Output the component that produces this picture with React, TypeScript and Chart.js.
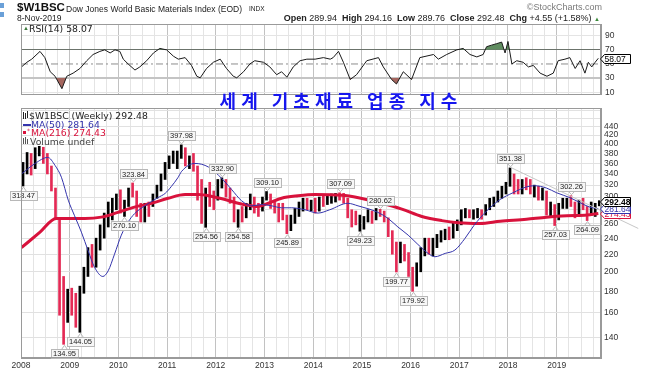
import React, { useEffect, useRef } from 'react';
import { Chart, registerables } from 'chart.js';

Chart.register(...registerables);

// ---------------- data ----------------
const FIRST_YEAR = 2008; // monthly bars start Jan 2008
const X_MIN = 2008;
const X_MAX = 2019.91;

// monthly price ranges (Jan 2008 .. Nov 2019)
const barLow = [
  318.47, 340, 338, 350, 375, 360, 340, 310, 268, 158, 134.95, 152,
  158, 148, 144.05, 178, 195, 205, 205, 225, 240, 255, 265, 280,
  275, 270.10, 285, 300, 270, 262, 262, 270, 285, 298, 310, 330,
  350, 360, 350, 370, 355, 350, 345, 295, 260, 254.56, 285, 280,
  295, 315, 300, 290, 262, 254.58, 262, 268, 280, 275, 270, 278,
  295, 282, 275, 262, 265, 245.89, 250, 260, 270, 278, 280, 278,
  275, 278, 285, 288, 290, 292, 295, 290, 268, 255, 258, 249.23,
  252, 262, 260, 265, 270, 262, 242, 220, 199.77, 210, 212, 195,
  179.92, 185, 200, 218, 220, 218, 228, 235, 238, 238, 240, 250,
  258, 268, 268, 266, 268, 266, 272, 280, 285, 292, 298, 305,
  318, 305, 305, 305, 312, 305, 300, 295, 295, 272, 270, 257.03,
  265, 282, 282, 285, 268, 270, 280, 264.09, 272, 270, 286,
];
const barHigh = [
  362, 382, 380, 392, 395, 393, 380, 355, 315, 265, 195, 182,
  183, 178, 185, 205, 228, 232, 240, 258, 275, 292, 298, 305,
  312, 295, 315, 323.84, 310, 290, 290, 292, 305, 320, 340, 362,
  375, 385, 385, 397.98, 392, 375, 380, 355, 330, 315, 325, 310,
  330, 332.90, 330, 315, 300, 280, 285, 290, 305, 300, 290, 300,
  309.10, 305, 295, 290, 290, 272, 272, 282, 292, 298, 298, 295,
  298, 300, 302, 304, 305, 306, 307.09, 306, 298, 280, 278, 272,
  270, 280, 278, 282, 280.62, 278, 268, 250, 235, 235, 232, 222,
  205, 210, 228, 240, 240, 240, 245, 250, 252, 255, 262, 265,
  280, 282, 280, 280, 282, 280, 288, 298, 300, 310, 318, 325,
  351.38, 340, 330, 330, 333, 330, 320, 318, 315, 310, 292, 288,
  290, 298, 298, 302.26, 292, 295, 298, 285, 292, 290, 294.16,
];
const barClose = [
  350, 375, 355, 385, 388, 365, 350, 320, 275, 180, 160, 170,
  162, 150, 178, 200, 220, 212, 235, 250, 268, 270, 292, 300,
  280, 290, 310, 305, 280, 268, 285, 282, 302, 315, 330, 358,
  370, 378, 382, 385, 362, 365, 355, 315, 265, 305, 300, 295,
  325, 325, 310, 300, 268, 275, 270, 285, 300, 285, 282, 298,
  305, 290, 285, 275, 270, 252, 268, 278, 288, 292, 285, 292,
  282, 296, 295, 300, 300, 304, 300, 295, 272, 270, 262, 262,
  265, 275, 268, 280, 272, 265, 245, 228, 210, 225, 218, 200,
  190, 205, 225, 238, 228, 230, 240, 245, 248, 245, 255, 262,
  275, 276, 272, 275, 278, 272, 285, 292, 298, 308, 312, 322,
  340, 318, 315, 325, 318, 310, 312, 300, 308, 280, 285, 265,
  285, 292, 294, 290, 272, 292, 285, 275, 285, 288, 292.48,
];

// 50-week moving average
const ma50Dates = [2008.01, 2008.29, 2008.55, 2008.70, 2008.83, 2008.97, 2009.10, 2009.24, 2009.38, 2009.51, 2009.68, 2009.79, 2009.92, 2010.06, 2010.20, 2010.33, 2010.54, 2010.81, 2010.96, 2011.09, 2011.22, 2011.30, 2011.57, 2011.85, 2012.12, 2012.33, 2012.53, 2012.74, 2012.94, 2013.15, 2013.35, 2013.56, 2013.83, 2014.10, 2014.34, 2014.71, 2014.92, 2015.33, 2015.54, 2015.74, 2015.95, 2016.15, 2016.36, 2016.50, 2016.71, 2016.91, 2017.12, 2017.30, 2017.56, 2017.84, 2018.10, 2018.38, 2018.55, 2018.79, 2019.00, 2019.27, 2019.48, 2019.68, 2019.855];
const ma50Values = [340, 360, 372, 356, 334, 295, 271, 248, 224, 205, 195, 201, 220, 244, 262, 274, 286, 299, 306, 318, 333, 345, 360, 353, 332, 312, 294, 286, 288, 286, 283, 283, 280, 275, 280, 290, 286, 276, 267, 255, 244, 232, 221, 217, 221, 225, 240, 257, 278, 296, 307, 317, 319, 315, 307, 299, 291, 284, 281.64];

// 216-week moving average
const ma216Dates = [2008.01, 2008.39, 2008.72, 2009.31, 2009.65, 2009.99, 2010.33, 2010.68, 2011.02, 2011.37, 2011.64, 2011.92, 2012.19, 2012.46, 2012.74, 2012.87, 2013.08, 2013.35, 2013.69, 2014.04, 2014.59, 2014.93, 2015.41, 2015.82, 2016.23, 2016.64, 2016.98, 2017.42, 2017.84, 2018.38, 2018.79, 2019.21, 2019.62, 2019.855];
const ma216Values = [228, 248, 267, 267, 269, 276, 284, 290, 298, 304, 304, 301, 296, 290, 286, 285, 290, 298, 302, 304, 303, 299, 290, 281, 270, 264, 261, 260, 263, 266, 269, 271, 272, 274.43];

// trend line drawn from the 2018 high
const trendDates = [2018.04, 2020.675];
const trendValues = [353, 253];

// labelled highs / lows (bar index, side)
const annotIndex = [0, 27, 39, 49, 60, 78, 88, 120, 135, 25, 45, 53, 65, 83, 92, 96, 131, 139, 14, 10];
const annotSide = ['low', 'high', 'high', 'high', 'high', 'high', 'high', 'high', 'high', 'low', 'low', 'low', 'low', 'low', 'low', 'low', 'low', 'low', 'low', 'low'];

// RSI(14)
const rsiDates = [2008.01, 2008.12, 2008.22, 2008.39, 2008.49, 2008.60, 2008.70, 2008.84, 2008.94, 2009.07, 2009.21, 2009.35, 2009.48, 2009.62, 2009.72, 2009.83, 2009.93, 2010.03, 2010.10, 2010.20, 2010.34, 2010.44, 2010.58, 2010.72, 2010.85, 2010.99, 2011.13, 2011.23, 2011.37, 2011.50, 2011.61, 2011.68, 2011.81, 2011.95, 2012.09, 2012.22, 2012.36, 2012.43, 2012.57, 2012.70, 2012.80, 2012.98, 2013.11, 2013.25, 2013.35, 2013.46, 2013.59, 2013.73, 2013.87, 2014.04, 2014.21, 2014.35, 2014.41, 2014.52, 2014.62, 2014.76, 2014.89, 2015.10, 2015.34, 2015.44, 2015.61, 2015.71, 2015.85, 2016.02, 2016.19, 2016.47, 2016.57, 2016.74, 2016.95, 2017.08, 2017.22, 2017.36, 2017.49, 2017.56, 2017.66, 2017.77, 2017.87, 2017.94, 2018.00, 2018.08, 2018.18, 2018.31, 2018.42, 2018.52, 2018.66, 2018.80, 2018.93, 2019.03, 2019.17, 2019.27, 2019.38, 2019.48, 2019.58, 2019.65, 2019.72, 2019.79, 2019.855];
const rsiValues = [45.8, 52.4, 56.8, 67.8, 59, 39, 32.6, 15, 32.6, 37, 43.6, 54.6, 63.4, 67.8, 70, 65.6, 70, 67.8, 56.8, 50, 41.4, 45.8, 54.6, 65.6, 72, 70, 61, 56.8, 59, 48, 32.6, 30.4, 43.6, 52.4, 56.8, 43.6, 32.6, 30.4, 39, 50, 54.6, 52.4, 45.8, 34.8, 39, 31.3, 45.8, 54.6, 56.8, 56.8, 59, 56.8, 59, 67.8, 52.4, 28, 34.8, 54.6, 59, 45.8, 28, 21.6, 39, 28, 59, 63.4, 56.8, 63.4, 70, 72, 63.4, 60, 63.4, 74.4, 76.6, 78.8, 81, 65.6, 81.9, 50, 54.6, 52.4, 45.8, 48, 37, 32.6, 37, 54.6, 56.8, 59, 43.6, 54.6, 37, 52.4, 45.8, 52.4, 58.07];
const RSI_UPPER = 70;
const RSI_MID = 50;
const RSI_LOWER = 30;
const rsiTicks = [10, 30, 50, 70, 90];

const priceTicks = [140, 160, 180, 200, 220, 240, 260, 280, 300, 320, 340, 360, 380, 400, 420, 440, 460, 480];
const priceTickLabels = [140, 160, 180, 200, 220, 240, 260, 280, 300, 320, 340, 360, 380, 400, 420, 440];

// ---------------- helpers ----------------
const UP = '#000000';
const DOWN = '#e42a55';
const MA50_COLOR = '#3434ac';
const MA216_COLOR = '#d8123c';
const FONT = '"Liberation Sans", Arial, sans-serif';

const barX = barLow.map((_, i) => FIRST_YEAR + (i + 0.5) / 12);
const barColors = barClose.map((c, i) => (i === 0 || c >= barClose[i - 1] ? UP : DOWN));

const quarterTicks: number[] = [];
for (let q = 0; q <= 47; q++) quarterTicks.push(FIRST_YEAR + q * 0.25);

const xScale = (labels: boolean) => ({
  type: 'linear',
  min: X_MIN,
  max: X_MAX,
  offset: false,
  afterBuildTicks: (s: any) => {
    s.ticks = quarterTicks.map((v) => ({ value: v }));
  },
  grid: {
    offset: false,
    drawTicks: false,
    color: (c: any) => (c.tick && Number.isInteger(c.tick.value) ? '#c2c2c2' : '#e4e4e4'),
    lineWidth: 1,
  },
  border: { display: true, color: '#9a9a9a' },
  ticks: {
    display: labels,
    autoSkip: false,
    maxRotation: 0,
    padding: 3,
    color: '#333',
    font: { size: 8.5, family: FONT },
    callback: (v: any) => (Number.isInteger(v) ? String(v) : ''),
  },
  afterFit: (s: any) => {
    s.height = labels ? 18 : 4;
  },
});

const framePlugin = {
  id: 'frame',
  afterDraw(chart: any) {
    const { ctx, chartArea: a } = chart;
    ctx.save();
    ctx.strokeStyle = '#9a9a9a';
    ctx.lineWidth = 1;
    ctx.strokeRect(Math.round(a.left) + 0.5, Math.round(a.top) + 0.5, Math.round(a.right - a.left) - 1, Math.round(a.bottom - a.top) - 1);
    ctx.restore();
  },
};

function drawTag(ctx: any, xLeft: number, py: number, text: string, color: string, bold: boolean) {
  const h = 9;
  const top = Math.round(py - h / 2) + 0.5;
  const tip = xLeft + 0.5;
  const right = xLeft + 30.5;
  ctx.beginPath();
  ctx.moveTo(tip, top + h / 2);
  ctx.lineTo(tip + 4, top);
  ctx.lineTo(right, top);
  ctx.lineTo(right, top + h);
  ctx.lineTo(tip + 4, top + h);
  ctx.closePath();
  ctx.fillStyle = '#ffffff';
  ctx.fill();
  ctx.strokeStyle = color;
  ctx.lineWidth = 1;
  ctx.stroke();
  ctx.fillStyle = color;
  ctx.font = (bold ? 'bold ' : '') + '8.5px ' + FONT;
  ctx.textAlign = 'left';
  ctx.textBaseline = 'middle';
  ctx.fillText(text, tip + 4, top + h / 2 + 0.5);
}

const annotPlugin = {
  id: 'annot',
  afterDatasetsDraw(chart: any) {
    const { ctx, scales } = chart;
    const x = scales.x;
    const y = scales.y;
    ctx.save();
    ctx.font = '7.5px ' + FONT;
    ctx.textAlign = 'center';
    ctx.textBaseline = 'middle';
    annotIndex.forEach((idx, k) => {
      const isHigh = annotSide[k] === 'high';
      const v = isHigh ? barHigh[idx] : barLow[idx];
      const px = Math.round(x.getPixelForValue(barX[idx])) + 0.5;
      const py = y.getPixelForValue(v);
      const text = v.toFixed(2);
      const w = Math.ceil(ctx.measureText(text).width) + 4;
      const h = 9;
      const cy = isHigh ? py - 9 : py + 9;
      const top = Math.round(cy - h / 2) + 0.5;
      const left = Math.round(px - w / 2);
      ctx.strokeStyle = '#b8b8b8';
      ctx.lineWidth = 1;
      ctx.beginPath();
      const edge = isHigh ? top + h : top;
      ctx.moveTo(px - 3, edge);
      ctx.lineTo(px, isHigh ? py - 1 : py + 1);
      ctx.lineTo(px + 3, edge);
      ctx.stroke();
      ctx.fillStyle = '#f7f7f7';
      ctx.fillRect(left + 0.5, top, w, h);
      ctx.strokeRect(left + 0.5, top, w, h);
      ctx.fillStyle = '#222';
      ctx.fillText(text, px, cy + 0.5);
    });
    ctx.restore();
  },
};

const priceTagPlugin = {
  id: 'priceTags',
  afterDraw(chart: any) {
    const { ctx, chartArea, scales } = chart;
    const y = scales.y;
    ctx.save();
    const tags = [
      { v: ma216Values[ma216Values.length - 1], c: MA216_COLOR, b: false },
      { v: ma50Values[ma50Values.length - 1], c: MA50_COLOR, b: false },
      { v: barClose[barClose.length - 1], c: '#000', b: true },
    ];
    tags.forEach((t) => drawTag(ctx, Math.round(chartArea.right) - 1, y.getPixelForValue(t.v), t.v.toFixed(2), t.c, t.b));
    ctx.restore();
  },
};

const rsiTagPlugin = {
  id: 'rsiTag',
  afterDraw(chart: any) {
    const { ctx, chartArea, scales } = chart;
    const last = rsiValues[rsiValues.length - 1];
    ctx.save();
    drawTag(ctx, Math.round(chartArea.right) - 1, scales.y.getPixelForValue(last), last.toFixed(2), '#000', false);
    ctx.restore();
  },
};

// ---------------- component ----------------
const txt = (extra: any): any => ({ position: 'absolute', whiteSpace: 'nowrap', lineHeight: 1, ...extra });

export default function App() {
  const rsiRef = useRef<HTMLCanvasElement>(null);
  const priceRef = useRef<HTMLCanvasElement>(null);

  useEffect(() => {
    Chart.defaults.font.family = FONT;
    const rsiPts = rsiDates.map((d, i) => ({ x: d, y: rsiValues[i] }));
    const rsiChart = new Chart(rsiRef.current as HTMLCanvasElement, {
      type: 'line',
      data: {
        datasets: [
          {
            data: rsiPts,
            borderColor: '#1a1a1a',
            borderWidth: 1,
            pointRadius: 0,
            fill: { target: { value: RSI_UPPER }, above: '#5f8c5f', below: 'rgba(0,0,0,0)' },
            order: 0,
          },
          {
            data: rsiPts,
            borderColor: 'rgba(0,0,0,0)',
            borderWidth: 0,
            pointRadius: 0,
            fill: { target: { value: RSI_LOWER }, above: 'rgba(0,0,0,0)', below: '#a5665f' },
            order: 1,
          },
          {
            data: [{ x: X_MIN, y: RSI_MID }, { x: X_MAX, y: RSI_MID }],
            borderColor: '#8c8c8c',
            borderWidth: 1,
            borderDash: [7, 3, 2, 3],
            pointRadius: 0,
            order: 2,
          },
        ],
      } as any,
      options: {
        responsive: false,
        animation: false,
        devicePixelRatio: 1,
        layout: { padding: { left: 21, top: 24, right: 0, bottom: 0 } },
        plugins: { legend: { display: false }, tooltip: { enabled: false } },
        scales: {
          x: xScale(false) as any,
          y: {
            type: 'linear',
            position: 'right',
            min: 6.2,
            max: 106.6,
            afterBuildTicks: (s: any) => {
              s.ticks = rsiTicks.map((v) => ({ value: v }));
            },
            grid: {
              drawTicks: false,
              color: (c: any) => {
                const v = c.tick ? c.tick.value : 0;
                if (v === RSI_UPPER) return '#6e6e6e';
                if (v === RSI_LOWER) return '#c4c4c4';
                if (v === RSI_MID) return 'rgba(0,0,0,0)';
                return '#e4e4e4';
              },
              lineWidth: (c: any) => (c.tick && c.tick.value === RSI_LOWER ? 2 : 1),
            },
            border: { color: '#9a9a9a' },
            ticks: { autoSkip: false, padding: 4, color: '#333', font: { size: 8.5, family: FONT } },
            afterFit: (s: any) => {
              s.width = 46;
            },
          } as any,
        },
      },
      plugins: [framePlugin, rsiTagPlugin],
    });

    const priceChart = new Chart(priceRef.current as HTMLCanvasElement, {
      type: 'bar',
      data: {
        datasets: [
          {
            type: 'line',
            data: trendDates.map((d, i) => ({ x: d, y: trendValues[i] })),
            borderColor: '#c6c6c6',
            borderWidth: 1,
            pointRadius: 0,
            clip: false,
            order: 0,
          },
          {
            type: 'line',
            data: ma50Dates.map((d, i) => ({ x: d, y: ma50Values[i] })),
            borderColor: MA50_COLOR,
            borderWidth: 1,
            pointRadius: 0,
            cubicInterpolationMode: 'monotone',
            order: 1,
          },
          {
            type: 'line',
            data: ma216Dates.map((d, i) => ({ x: d, y: ma216Values[i] })),
            borderColor: MA216_COLOR,
            borderWidth: 3,
            pointRadius: 0,
            cubicInterpolationMode: 'monotone',
            order: 2,
          },
          {
            type: 'bar',
            data: barX.map((x, i) => ({ x, y: [barLow[i], barHigh[i]] })),
            backgroundColor: barColors,
            borderWidth: 0,
            barThickness: 2,
            order: 3,
          },
        ],
      } as any,
      options: {
        responsive: false,
        animation: false,
        devicePixelRatio: 1,
        layout: { padding: { left: 21, top: 1, right: 0, bottom: 0 } },
        plugins: { legend: { display: false }, tooltip: { enabled: false } },
        scales: {
          x: xScale(true) as any,
          y: {
            type: 'logarithmic',
            position: 'right',
            min: 125.3,
            max: 486,
            afterBuildTicks: (s: any) => {
              s.ticks = priceTicks.map((v) => ({ value: v }));
            },
            grid: { drawTicks: false, color: '#e1e1e1' },
            border: { color: '#9a9a9a' },
            ticks: {
              autoSkip: false,
              padding: 3,
              color: '#333',
              font: { size: 8.5, family: FONT },
              callback: (v: any) => (priceTickLabels.includes(Number(v)) ? String(v) : ''),
            },
            afterFit: (s: any) => {
              s.width = 46;
            },
          } as any,
        },
      },
      plugins: [framePlugin, annotPlugin, priceTagPlugin],
    });

    return () => {
      rsiChart.destroy();
      priceChart.destroy();
    };
  }, []);

  const mono = '"DejaVu Sans", Verdana, sans-serif';

  return (
    <div style={{ position: 'absolute', left: 0, top: 0, width: 647, height: 376, background: '#fff', overflow: 'hidden', fontFamily: FONT }}>
      <canvas ref={rsiRef} width={647} height={104} style={{ position: 'absolute', left: 0, top: 0 }} />
      <canvas ref={priceRef} width={647} height={276} style={{ position: 'absolute', left: 0, top: 100 }} />

      {/* header */}
      <div style={txt({ left: 0, top: 3, width: 4, height: 5, background: '#6aa0d8' })} />
      <div style={txt({ left: 0, top: 12, width: 4, height: 5, background: '#6aa0d8' })} />
      <div style={txt({ left: 17, top: 2, fontSize: 11.5, fontWeight: 700, color: '#111' })}>$W1BSC</div>
      <div style={txt({ left: 66, top: 4.5, fontSize: 8.5, color: '#222' })}>Dow Jones World Basic Materials Index (EOD)</div>
      <div style={txt({ left: 249, top: 6, fontSize: 6.5, color: '#222' })}>INDX</div>
      <div style={txt({ left: 17, top: 14, fontSize: 8.5, color: '#222' })}>8-Nov-2019</div>
      <div style={txt({ right: 47, top: 13.5, fontSize: 9, color: '#222' })}>
        <b>Open</b> 289.94&nbsp; <b>High</b> 294.16&nbsp; <b>Low</b> 289.76&nbsp; <b>Close</b> 292.48&nbsp; <b>Chg</b> +4.55 (+1.58%) <span style={{ color: '#3a8a3a', fontSize: 6 }}>▲</span>
      </div>
      <div style={txt({ right: 45, top: 3, fontSize: 9, color: '#7a7a7a' })}>©StockCharts.com</div>

      {/* RSI legend */}
      <div style={txt({ left: 23, top: 24.5, fontSize: 6, color: '#3e7a3e' })}>▲</div>
      <div style={txt({ left: 29, top: 23.5, fontSize: 9.3, color: '#222', fontFamily: mono })}>RSI(14) 58.07</div>

      {/* price legend */}
      <div style={txt({ left: 23, top: 112, width: 1, height: 7, background: '#222' })} />
      <div style={txt({ left: 25, top: 113, width: 1, height: 6, background: '#222' })} />
      <div style={txt({ left: 27, top: 111, width: 1, height: 7, background: '#222' })} />
      <div style={txt({ left: 29, top: 111.2, fontSize: 9.3, color: '#222', fontFamily: mono })}>$W1BSC (Weekly) 292.48</div>
      <div style={txt({ left: 23, top: 124, width: 8, height: 1.5, background: MA50_COLOR })} />
      <div style={txt({ left: 31, top: 119.8, fontSize: 9.3, color: MA50_COLOR, fontFamily: mono })}>MA(50) 281.64</div>
      <div style={txt({ left: 23, top: 131, width: 3, height: 3, background: MA216_COLOR })} />
      <div style={txt({ left: 27, top: 128, fontSize: 6, color: MA216_COLOR, fontFamily: mono })}>*</div>
      <div style={txt({ left: 31, top: 128.2, fontSize: 9.3, color: MA216_COLOR, fontFamily: mono })}>MA(216) 274.43</div>
      <div style={txt({ left: 23, top: 138, width: 1, height: 6, background: '#555' })} />
      <div style={txt({ left: 25, top: 137, width: 1, height: 7, background: '#555' })} />
      <div style={txt({ left: 27, top: 139, width: 1, height: 5, background: '#555' })} />
      <div style={txt({ left: 30, top: 136.5, fontSize: 9.3, color: '#444', fontFamily: mono })}>Volume undef</div>

      {/* Korean title */}
      <div
        style={txt({
          left: 341,
          top: 90.5,
          transform: 'translateX(-50%)',
          fontSize: 18,
          fontWeight: 700,
          letterSpacing: 5,
          color: '#1616ee',
          fontFamily: '"Noto Sans CJK KR", sans-serif',
        })}
      >
        세계 기초재료 업종 지수
      </div>
    </div>
  );
}
